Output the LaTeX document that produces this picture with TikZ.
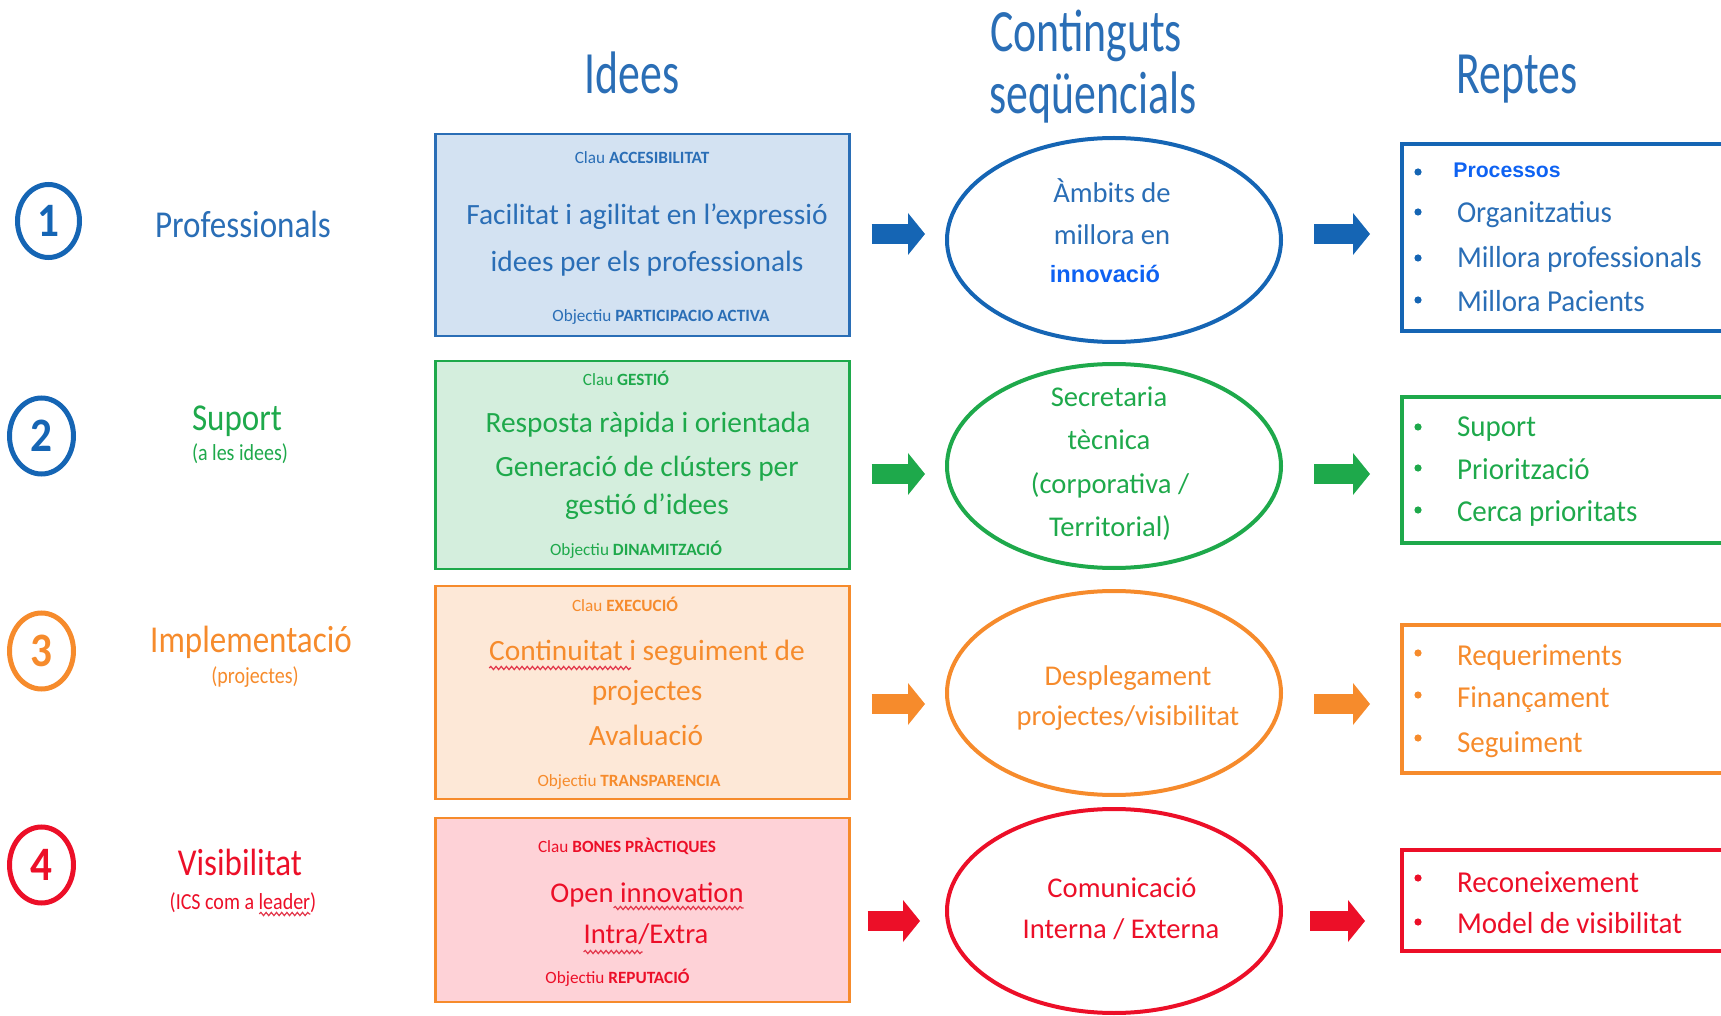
\documentclass[tikz,border=0pt]{standalone}
\usepackage{fontspec}
\setmainfont{Carlito}
\newfontfamily\arialfont{Liberation Sans}
\usetikzlibrary{shapes.geometric,arrows.meta,decorations.pathmorphing,calc}
\definecolor{cBlue}{HTML}{2A6EB6}
\definecolor{cBlueDk}{HTML}{1565B4}
\definecolor{cBright}{HTML}{0E62F2}
\definecolor{cGreen}{HTML}{1EA94B}
\definecolor{cOrange}{HTML}{F68B2C}
\definecolor{cRed}{HTML}{EC0F28}
\definecolor{fBlue}{HTML}{D3E2F2}
\definecolor{fGreen}{HTML}{D4EEDD}
\definecolor{fOrange}{HTML}{FDE8D7}
\definecolor{fRed}{HTML}{FED2D7}
\definecolor{wave}{HTML}{E2364A}
\newcommand{\hx}[2]{\scalebox{#1}[1]{#2}}
\tikzset{
  txt/.style={inner sep=0pt, outer sep=0pt, anchor=base},
  hdr/.style={txt, text=cBlue, font=\fontsize{30pt}{30pt}\selectfont},
  lab/.style={txt, font=\fontsize{19pt}{19pt}\selectfont},
  sublab/.style={txt, font=\fontsize{11.5pt}{12pt}\selectfont},
  small/.style={txt, font=\fontsize{8.6pt}{9pt}\selectfont},
  mid/.style={txt, font=\fontsize{14.7pt}{15pt}\selectfont},
  elltxt/.style={txt, font=\fontsize{14.3pt}{15pt}\selectfont},
  rtxt/.style={inner sep=0pt, outer sep=0pt, anchor=base west, font=\fontsize{15.2pt}{16pt}\selectfont},
  numc/.style={ellipse, line width=2.5pt, minimum width=32pt, minimum height=38pt, inner sep=0pt,
               font=\fontsize{24pt}{24pt}\selectfont\bfseries},
  ibox/.style={rectangle, line width=1.2pt, inner sep=0pt, outer sep=0pt, minimum width=207pt},
  ell/.style={ellipse, line width=2pt, inner sep=0pt, outer sep=0pt, minimum width=167pt, minimum height=102pt},
  rbox/.style={rectangle, line width=2pt, inner sep=0pt, outer sep=0pt, minimum width=188pt},
  barrow/.style={line width=10pt, -{Triangle[length=8.5pt,width=21pt,line width=0pt]}},
  wavy/.style={draw=wave, line width=0.6pt, decorate, decoration={snake, amplitude=0.8pt, segment length=2.6pt}},
  bul/.style={circle, inner sep=0pt, minimum size=3.6pt}
}
\begin{document}
\begin{tikzpicture}[x=0.5pt,y=-0.5pt]
\useasboundingbox (0,0) rectangle (1721,1016);
\clip (0,0) rectangle (1721,1016);

% headers
\node[hdr] (hIdees) at (632,94) {\hx{0.73}{Idees}};
\node[hdr] (hCont1) at (1086,52) {\hx{0.73}{Continguts}};
\node[hdr] (hCont2) at (1093,114) {\hx{0.73}{seqüencials}};
\node[hdr] (hReptes) at (1517,94) {\hx{0.73}{Reptes}};

% numbered circles
\node[numc, draw=cBlueDk, text=cBlueDk, minimum width=31pt, minimum height=36.5pt] (n1) at (48.5,221) {\hx{0.9}{1}};
\node[numc, draw=cBlueDk, text=cBlueDk] (n2) at (41.5,436) {\hx{0.9}{2}};
\node[numc, draw=cOrange, text=cOrange] (n3) at (41.5,651) {\hx{0.9}{3}};
\node[numc, draw=cRed, text=cRed] (n4) at (41.5,865) {\hx{0.9}{4}};

% left labels
\node[lab, text=cBlue] (lP) at (243,238) {\hx{0.87}{Professionals}};
\node[lab, text=cGreen] (lS) at (237,430) {\hx{0.87}{Suport}};
\node[sublab, text=cGreen] (lS2) at (240,461) {\hx{0.87}{(a les idees)}};
\node[lab, text=cOrange] (lI) at (251,653) {\hx{0.87}{Implementació}};
\node[sublab, text=cOrange] (lI2) at (255,683) {\hx{0.87}{(projectes)}};
\node[lab, text=cRed] (lV) at (240,875) {\hx{0.87}{Visibilitat}};
\node[sublab, text=cRed] (lV2) at (243,909) {\hx{0.87}{(ICS com a leader)}};
\draw[wavy] ($(lV2.base east)+(-57,5)$) -- ($(lV2.base east)+(-6,5)$);

% idea boxes
\node[ibox, draw=cBlue, fill=fBlue, minimum height=101pt] (b1) at (642.5,235) {};
\node[ibox, draw=cGreen, fill=fGreen, minimum height=104pt] (b2) at (642.5,465) {};
\node[ibox, draw=cOrange, fill=fOrange, minimum height=106.5pt] (b3) at (642.5,692.5) {};
\node[ibox, draw=cOrange, fill=fRed, minimum height=92pt] (b4) at (642.5,910) {};

\node[small, text=cBlue] (b1k) at (642,164) {Clau \textbf{ACCESIBILITAT}};
\node[mid, text=cBlue] (b1a) at (647,225) {Facilitat i agilitat en l’expressió};
\node[mid, text=cBlue] (b1b) at (647,272) {idees per els professionals};
\node[small, text=cBlue] (b1o) at (661,322) {Objectiu \textbf{PARTICIPACIO ACTIVA}};

\node[small, text=cGreen] (b2k) at (626,386) {Clau \textbf{GESTIÓ}};
\node[mid, text=cGreen] (b2a) at (648,433) {Resposta ràpida i orientada};
\node[mid, text=cGreen] (b2b) at (647,477) {Generació de clústers per};
\node[mid, text=cGreen] (b2c) at (647,515) {gestió d’idees};
\node[small, text=cGreen] (b2o) at (636,555) {Objectiu \textbf{DINAMITZACIÓ}};

\node[small, text=cOrange] (b3k) at (625,611) {Clau \textbf{EXECUCIÓ}};
\node[mid, text=cOrange] (b3a) at (647,660) {Continuitat i seguiment de};
\node[mid, text=cOrange] (b3b) at (647,700) {projectes};
\node[mid, text=cOrange] (b3c) at (646,745) {Avaluació};
\node[small, text=cOrange] (b3o) at (629,786) {Objectiu \textbf{TRANSPARENCIA}};
\draw[wavy] ($(b3a.base west)+(0,8)$) -- ($(b3a.base west)+(142,8)$);

\node[small, text=cRed] (b4k) at (627,852) {Clau \textbf{BONES PRÀCTIQUES}};
\node[mid, text=cRed, font=\fontsize{14.3pt}{15pt}\selectfont] (b4a) at (647,902) {Open innovation};
\node[mid, text=cRed, font=\fontsize{14.3pt}{15pt}\selectfont] (b4b) at (646,943) {Intra/Extra};
\node[small, text=cRed] (b4o) at (617.5,983) {Objectiu \textbf{REPUTACIÓ}};
\draw[wavy] ($(b4a.base east)+(-130,6)$) -- ($(b4a.base east)+(0,6)$);
\draw[wavy] ($(b4b.base west)+(0,9)$) -- ($(b4b.base west)+(59,9)$);

% ellipses
\node[ell, draw=cBlueDk] (e1) at (1114,240) {};
\node[ell, draw=cGreen] (e2) at (1114,466) {};
\node[ell, draw=cOrange] (e3) at (1114,693) {};
\node[ell, draw=cRed] (e4) at (1114,911) {};

\node[elltxt, text=cBlue] (e1a) at (1112,203) {Àmbits de};
\node[elltxt, text=cBlue] (e1b) at (1112,245) {millora en};
\node[txt, text=cBright, font=\arialfont\bfseries\fontsize{11.8pt}{12pt}\selectfont] (e1c) at (1105,283) {innovació};

\node[elltxt, text=cGreen] (e2a) at (1109,407) {Secretaria};
\node[elltxt, text=cGreen] (e2b) at (1109,450) {tècnica};
\node[elltxt, text=cGreen] (e2c) at (1110,494) {(corporativa /};
\node[elltxt, text=cGreen] (e2d) at (1110,537) {Territorial)};

\node[elltxt, text=cOrange] (e3a) at (1128,685) {Desplegament};
\node[elltxt, text=cOrange] (e3b) at (1128,725) {projectes/visibilitat};

\node[elltxt, text=cRed] (e4a) at (1122,897) {Comunicació};
\node[elltxt, text=cRed] (e4b) at (1121,938) {Interna / Externa};

% right boxes
\node[rbox, draw=cBlueDk, minimum height=93.5pt] (r1) at (1590,237.5) {};
\node[rbox, draw=cGreen, minimum height=73pt] (r2) at (1590,470) {};
\node[rbox, draw=cOrange, minimum height=74pt] (r3) at (1590,699) {};
\node[rbox, draw=cRed, minimum height=50.5pt] (r4) at (1590,900.5) {};

\node[bul, fill=cBlueDk] (r1u1) at (1418,172) {};
\node[bul, fill=cBlueDk] (r1u2) at (1418,212) {};
\node[bul, fill=cBlueDk] (r1u3) at (1418,258) {};
\node[bul, fill=cBlueDk] (r1u4) at (1418,300) {};
\node[inner sep=0pt, anchor=base west, text=cBright, font=\arialfont\bfseries\fontsize{10.6pt}{11pt}\selectfont] (r1t1) at (1453,178) {Processos};
\node[rtxt, text=cBlue] (r1t2) at (1457,223) {\hx{0.955}{Organitzatius}};
\node[rtxt, text=cBlue] (r1t3) at (1457,268) {\hx{0.955}{Millora professionals}};
\node[rtxt, text=cBlue] (r1t4) at (1457,312) {\hx{0.955}{Millora Pacients}};

\node[bul, fill=cGreen] (r2u1) at (1418,427) {};
\node[bul, fill=cGreen] (r2u2) at (1418,468) {};
\node[bul, fill=cGreen] (r2u3) at (1418,510) {};
\node[rtxt, text=cGreen] (r2t1) at (1457,437) {\hx{0.955}{Suport}};
\node[rtxt, text=cGreen] (r2t2) at (1457,480) {\hx{0.955}{Priorització}};
\node[rtxt, text=cGreen] (r2t3) at (1457,522) {\hx{0.955}{Cerca prioritats}};

\node[bul, fill=cOrange] (r3u1) at (1418,653) {};
\node[bul, fill=cOrange] (r3u2) at (1418,695) {};
\node[bul, fill=cOrange] (r3u3) at (1418,738) {};
\node[rtxt, text=cOrange] (r3t1) at (1457,665) {\hx{0.955}{Requeriments}};
\node[rtxt, text=cOrange] (r3t2) at (1457,707) {\hx{0.955}{Finançament}};
\node[rtxt, text=cOrange] (r3t3) at (1457,752) {\hx{0.955}{Seguiment}};

\node[bul, fill=cRed] (r4u1) at (1418,878) {};
\node[bul, fill=cRed] (r4u2) at (1418,922) {};
\node[rtxt, text=cRed] (r4t1) at (1457,892) {\hx{0.955}{Reconeixement}};
\node[rtxt, text=cRed] (r4t2) at (1457,933) {\hx{0.955}{Model de visibilitat}};

% arrows
\coordinate (y1) at (0,234);
\coordinate (y2) at (0,474);
\coordinate (y3) at (0,704);
\coordinate (y4) at (0,921);
\draw[barrow, cBlueDk, shorten <=11pt, shorten >=11pt] (b1.east |- y1) -- (e1.west |- y1);
\draw[barrow, cBlueDk, shorten <=16.5pt, shorten >=16pt] (e1.east |- y1) -- (r1.west |- y1);
\draw[barrow, cGreen, shorten <=11pt, shorten >=11pt] (b2.east |- y2) -- (e2.west |- y2);
\draw[barrow, cGreen, shorten <=16.5pt, shorten >=16pt] (e2.east |- y2) -- (r2.west |- y2);
\draw[barrow, cOrange, shorten <=11pt, shorten >=11pt] (b3.east |- y3) -- (e3.west |- y3);
\draw[barrow, cOrange, shorten <=16.5pt, shorten >=16pt] (e3.east |- y3) -- (r3.west |- y3);
\draw[barrow, cRed, shorten <=9pt, shorten >=13.5pt] (b4.east |- y4) -- (e4.west |- y4);
\draw[barrow, cRed, shorten <=14.5pt, shorten >=18.5pt] (e4.east |- y4) -- (r4.west |- y4);
\end{tikzpicture}
\end{document}
